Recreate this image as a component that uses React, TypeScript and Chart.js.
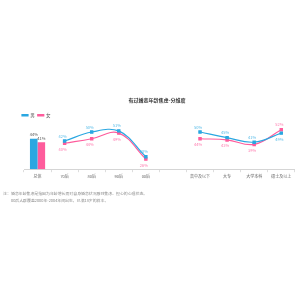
import React, { useEffect, useRef } from "react";
import { Chart, registerables } from "chart.js";

Chart.register(...registerables);

const TITLE = "有过婚恋年龄焦虑-分维度";
const CATEGORIES = ["总体", "70后", "80后", "90后", "00后", "", "高中及以下", "大专", "大学本科", "硕士及以上"];
const SERIES = ["男", "女"];
const BAR_MALE = [44, null, null, null, null, null, null, null, null, null];
const BAR_FEMALE = [41, null, null, null, null, null, null, null, null, null];
const LINE_MALE = [null, 42, 50, 51, 28, null, 50, 45, 41, 49];
const LINE_FEMALE = [null, 40, 44, 49, 26, null, 44, 43, 39, 52];
const NOTE_PREFIX = "注：";
const NOTE_LINES = [
  "婚恋年龄焦虑是指因为年龄增长而对自身婚恋状况感到焦虑、担心的心理状态。",
  "00后人群覆盖2000年-2004年间出生，已满18岁的样本。",
];
const Y_MIN = 17;
const Y_MAX = 54;

const BLUE = "#2aa7e1";
const PINK = "#fe5c9c";
const BLUE_TXT = "#58bce8";
const PINK_TXT = "#ff7aae";
const FONT = '"Noto Sans CJK SC", "Noto Sans", sans-serif';

const labelPlugin = {
  id: "valueLabels",
  afterDatasetsDraw(chart: any) {
    const ctx = chart.ctx;
    ctx.save();
    ctx.font = `4px ${FONT}`;
    ctx.textAlign = "center";
    ctx.textBaseline = "middle";
    chart.data.datasets.forEach((ds: any, di: number) => {
      const meta = chart.getDatasetMeta(di);
      meta.data.forEach((el: any, i: number) => {
        const v = ds.data[i];
        if (v == null) return;
        ctx.fillStyle = ds.labelColor;
        if (ds.type === "bar") {
          ctx.fillText(v + "%", el.x, el.y - 4);
        } else {
          const otherIdx = di === 2 ? 3 : 2;
          const other = chart.data.datasets[otherIdx].data[i];
          const above = other == null || v >= other;
          ctx.fillText(v + "%", el.x - 2, above ? el.y - 5 : el.y + 6);
        }
      });
    });
    ctx.restore();
  },
  afterDraw(chart: any) {
    const ctx = chart.ctx;
    ctx.save();
    ctx.font = `3.9px ${FONT}`;
    ctx.fillStyle = "#8a8a8a";
    ctx.textAlign = "left";
    ctx.textBaseline = "middle";
    ctx.fillText(NOTE_PREFIX, 3, 194);
    NOTE_LINES.forEach((t, k) => ctx.fillText(t, 11, 194 + k * 6.8));
    ctx.restore();
  },
};

export default function App() {
  const ref = useRef<HTMLCanvasElement>(null);
  useEffect(() => {
    const canvas = ref.current;
    if (!canvas) return;
    const chart = new Chart(canvas, {
      type: "bar",
      data: {
        labels: CATEGORIES,
        datasets: [
          { type: "bar", label: SERIES[0], data: BAR_MALE, backgroundColor: BLUE, labelColor: "#555", base: Y_MIN, barPercentage: 1, categoryPercentage: 0.56, order: 2 } as any,
          { type: "bar", label: SERIES[1], data: BAR_FEMALE, backgroundColor: PINK, labelColor: "#555", base: Y_MIN, barPercentage: 1, categoryPercentage: 0.56, order: 2 } as any,
          { type: "line", label: SERIES[0], data: LINE_MALE, borderColor: BLUE, backgroundColor: BLUE, labelColor: BLUE_TXT, borderWidth: 1.2, tension: 0.4, spanGaps: false, pointStyle: "rect", pointRadius: 1.6, clip: false, order: 1 } as any,
          { type: "line", label: SERIES[1], data: LINE_FEMALE, borderColor: PINK, backgroundColor: PINK, labelColor: PINK_TXT, borderWidth: 1.2, tension: 0.4, spanGaps: false, pointStyle: "rect", pointRadius: 1.6, clip: false, order: 1 } as any,
        ],
      },
      options: {
        responsive: false,
        animation: false,
        layout: { padding: { left: 19, right: 5, top: 0, bottom: 119 } },
        plugins: {
          title: {
            display: true,
            text: TITLE,
            color: "#333",
            font: { family: FONT, size: 5, weight: "bold" },
            padding: { top: 97, bottom: 7 },
          },
          legend: {
            position: "top",
            align: "start",
            labels: {
              filter: (item: any) => item.datasetIndex >= 2,
              boxWidth: 6,
              boxHeight: 1.5,
              padding: 3,
              color: "#555",
              font: { family: FONT, size: 4.5 },
            },
          },
          tooltip: { enabled: false },
        },
        scales: {
          x: {
            grid: { drawOnChartArea: false, color: "#dddddd", tickLength: 3, offset: true },
            border: { color: "#d5d5d5" },
            ticks: { color: "#666", font: { family: FONT, size: 4 }, padding: 2, maxRotation: 0, autoSkip: false },
          },
          y: {
            display: true,
            min: Y_MIN,
            max: Y_MAX,
            ticks: { display: false },
            grid: { display: false },
            border: { display: false },
            afterFit: (scale: any) => { scale.width = 5; },
          },
        },
      },
      plugins: [labelPlugin],
    });
    return () => chart.destroy();
  }, []);
  return (
    <div style={{ position: "fixed", left: 0, top: 0, width: 300, height: 300, background: "#fff" }}>
      <canvas ref={ref} width={300} height={300} style={{ display: "block" }} />
    </div>
  );
}
